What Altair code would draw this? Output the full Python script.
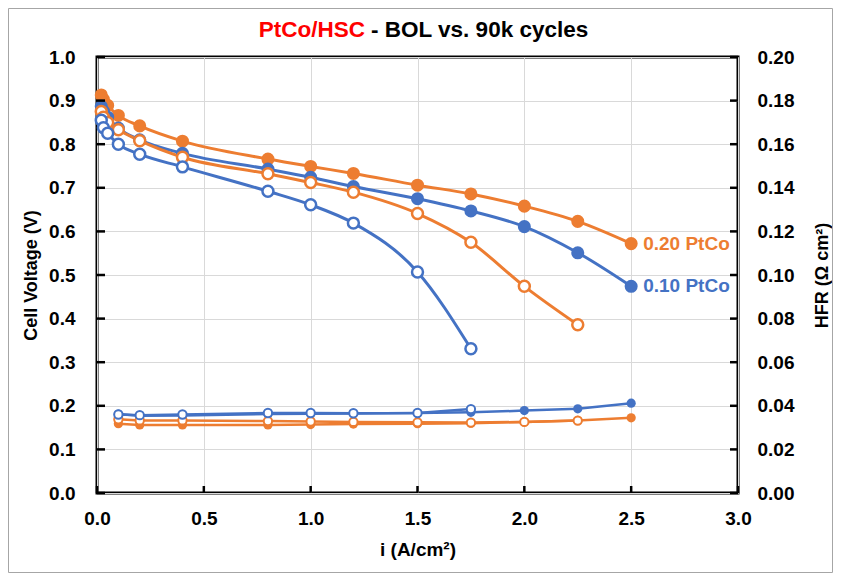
import altair as alt
import pandas as pd

# ---------------- data ----------------
I_POL = [0.02, 0.03, 0.05, 0.1, 0.2, 0.4, 0.8, 1.0, 1.2, 1.5, 1.75, 2.0, 2.25, 2.5]
V_020_BOL = [0.913, 0.903, 0.889, 0.866, 0.842, 0.807, 0.766, 0.749, 0.733, 0.706, 0.686, 0.658, 0.623, 0.572]
V_010_BOL = [0.887, 0.876, 0.862, 0.837, 0.810, 0.779, 0.743, 0.724, 0.703, 0.675, 0.647, 0.611, 0.551, 0.474]
V_020_90K = [0.875, 0.862, 0.850, 0.833, 0.808, 0.770, 0.732, 0.712, 0.690, 0.641, 0.575, 0.474, 0.386]
V_010_90K = [0.855, 0.838, 0.825, 0.800, 0.777, 0.748, 0.692, 0.661, 0.619, 0.507, 0.331]

I_HFR = [0.1, 0.2, 0.4, 0.8, 1.0, 1.2, 1.5, 1.75, 2.0, 2.25, 2.5]
HFR_020_BOL = [0.0318, 0.0312, 0.0312, 0.0312, 0.0314, 0.0316, 0.0318, 0.0320, 0.0326, 0.0333, 0.0345]
HFR_010_BOL = [0.0362, 0.0354, 0.0356, 0.0362, 0.0364, 0.0365, 0.0367, 0.0370, 0.0378, 0.0386, 0.0412]
HFR_020_90K = [0.0338, 0.0333, 0.0333, 0.0330, 0.0328, 0.0326, 0.0324, 0.0323, 0.0326, 0.0332]
HFR_010_90K = [0.0360, 0.0357, 0.0360, 0.0367, 0.0367, 0.0366, 0.0367, 0.0385]

SERIES = ["0.20", "0.10"]
COLORS = ["#ED7D31", "#4472C4"]
LABELS = ["0.20 PtCo", "0.10 PtCo"]

X_TICKS = [0.0, 0.5, 1.0, 1.5, 2.0, 2.5, 3.0]
LEFT_TICKS = [0.0, 0.1, 0.2, 0.3, 0.4, 0.5, 0.6, 0.7, 0.8, 0.9, 1.0]
RIGHT_TICKS = [0.0, 0.02, 0.04, 0.06, 0.08, 0.10, 0.12, 0.14, 0.16, 0.18, 0.20]

TITLE_RED = "PtCo/HSC"
TITLE_BLACK = "- BOL vs. 90k cycles"

# ---------------- tables ----------------
def rows(xs, ys, series, state, col):
    return [{"i": x, col: y, "series": series, "state": state, "key": series + state}
            for x, y in zip(xs, ys)]

pol = pd.DataFrame(
    rows(I_POL, V_020_BOL, "0.20", "BOL", "v")
    + rows(I_POL, V_010_BOL, "0.10", "BOL", "v")
    + rows(I_POL[:len(V_020_90K)], V_020_90K, "0.20", "90k", "v")
    + rows(I_POL[:len(V_010_90K)], V_010_90K, "0.10", "90k", "v")
)
hfr = pd.DataFrame(
    rows(I_HFR, HFR_020_BOL, "0.20", "BOL", "h")
    + rows(I_HFR, HFR_010_BOL, "0.10", "BOL", "h")
    + rows(I_HFR[:len(HFR_020_90K)], HFR_020_90K, "0.20", "90k", "h")
    + rows(I_HFR[:len(HFR_010_90K)], HFR_010_90K, "0.10", "90k", "h")
)
labels = pd.DataFrame({
    "i": [I_POL[-1], I_POL[-1]],
    "v": [V_020_BOL[-1], V_010_BOL[-1]],
    "series": SERIES,
    "label": LABELS,
})
ticks_x = pd.DataFrame({"i": X_TICKS})
ticks_y = pd.DataFrame({"v": LEFT_TICKS})
title_df = pd.DataFrame({"red": [TITLE_RED], "black": [TITLE_BLACK]})

W, H = 641, 436
FONT = "Liberation Sans"

color = alt.Color("series:N", scale=alt.Scale(domain=SERIES, range=COLORS), legend=None)

x_axis = alt.Axis(values=X_TICKS, format=".1f", grid=True, gridColor="#D9D9D9", gridWidth=1,
                  domain=False, ticks=False, labelFlush=False, labelFontSize=19, labelFont=FONT,
                  labelFontWeight="bold", labelColor="black", labelPadding=16, title="i (A/cm²)",
                  titleFont=FONT, titleFontSize=19, titleFontWeight="bold", titleColor="black",
                  titlePadding=12)
X = alt.X("i:Q", scale=alt.Scale(domain=[0, 3], nice=False), axis=x_axis)

yl_axis = alt.Axis(values=LEFT_TICKS, format=".1f", grid=True, gridColor="#D9D9D9", gridWidth=1,
                   domain=False, ticks=False, labelFlush=False, labelFontSize=19, labelFont=FONT,
                   labelFontWeight="bold", labelColor="black", labelPadding=22,
                   title="Cell Voltage (V)", titleFont=FONT, titleFontSize=18,
                   titleFontWeight="bold", titleColor="black", titlePadding=8)
YL = alt.Y("v:Q", scale=alt.Scale(domain=[0, 1], nice=False), axis=yl_axis)

yr_axis = alt.Axis(values=RIGHT_TICKS, format=".2f", orient="right", grid=False,
                   domain=False, ticks=False, labelFlush=False, labelFontSize=19, labelFont=FONT,
                   labelFontWeight="bold", labelColor="black", labelPadding=19,
                   title="HFR (Ω cm²)", titleFont=FONT, titleFontSize=18, titleFontWeight="bold",
                   titleColor="black", titleAngle=270, titleX=84, titleY=H / 2,
                   titleAlign="center", titleBaseline="middle")
YR = alt.Y("h:Q", scale=alt.Scale(domain=[0, 0.2], nice=False), axis=yr_axis)

# ---------------- left (polarization) ----------------
base_pol = alt.Chart(pol)
pol_line = base_pol.mark_line(strokeWidth=3, interpolate="monotone").encode(
    x=X, y=YL, color=color, detail="key:N")
pol_filled = base_pol.transform_filter(alt.datum.state == "BOL").mark_point(
    filled=True, size=170, opacity=1, shape="circle").encode(x=X, y=YL, color=color)
pol_open = base_pol.transform_filter(alt.datum.state == "90k").mark_point(
    filled=False, fill="white", size=120, strokeWidth=2.5, opacity=1, shape="circle").encode(
    x=X, y=YL, color=color)

lab = alt.Chart(labels).mark_text(align="left", baseline="middle", dx=12, fontSize=19,
                                  fontWeight="bold", font=FONT).encode(
    x=X, y=YL, text="label:N", color=color)

tick_left = alt.Chart(ticks_y).mark_rule(color="black", strokeWidth=2.5).encode(
    y=YL, x=alt.value(0), x2=alt.value(8))
tick_right = alt.Chart(ticks_y).mark_rule(color="black", strokeWidth=2.5).encode(
    y=YL, x=alt.value(W), x2=alt.value(W - 8))
tick_bottom = alt.Chart(ticks_x).mark_rule(color="black", strokeWidth=2.5).encode(
    x=X, y=alt.value(H), y2=alt.value(H - 7))

split = 268
title_red = alt.Chart(title_df).mark_text(align="right", baseline="middle", fontSize=22.5,
                                          fontWeight="bold", font=FONT, color="#FF0000").encode(
    x=alt.value(split), y=alt.value(-27), text="red:N")
title_black = alt.Chart(title_df).mark_text(align="left", baseline="middle", fontSize=22.5,
                                            fontWeight="bold", font=FONT, color="black").encode(
    x=alt.value(split + 6), y=alt.value(-27), text="black:N")

border = alt.Chart(title_df).mark_rect(fill=None, stroke="#A6A6A6", strokeWidth=1).encode(
    x=alt.value(-88.5), x2=alt.value(W + 94.5), y=alt.value(-48.5), y2=alt.value(H + 79.5))

left = alt.layer(pol_line, pol_filled, pol_open, lab, tick_left, tick_right, tick_bottom,
                 title_red, title_black, border)

# ---------------- right (HFR) ----------------
base_h = alt.Chart(hfr)
h_line = base_h.mark_line(strokeWidth=2.5).encode(x=X, y=YR, color=color, detail="key:N")
h_filled = base_h.transform_filter(alt.datum.state == "BOL").mark_point(
    filled=True, size=85, opacity=1, shape="circle").encode(x=X, y=YR, color=color)
h_open = base_h.transform_filter(alt.datum.state == "90k").mark_point(
    filled=False, fill="white", size=70, strokeWidth=2, opacity=1, shape="circle").encode(
    x=X, y=YR, color=color)
right = alt.layer(h_line, h_filled, h_open)

chart = alt.layer(left, right).resolve_scale(y="independent").properties(
    width=W, height=H,
    padding={"left": 89, "top": 49, "right": 95, "bottom": 80},
    autosize=alt.AutoSizeParams(type="none"),
    background="white",
).configure_view(stroke="black", strokeWidth=3)

chart.save("out.html", embed_options={"renderer": "svg", "actions": False})
